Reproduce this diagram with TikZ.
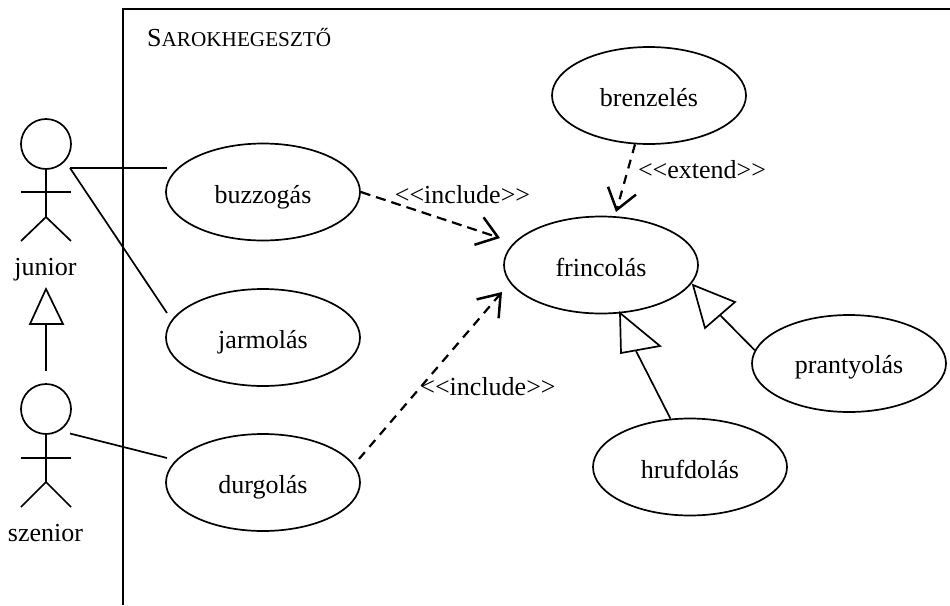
\documentclass[tikz,border=0pt]{standalone}
\usepackage{fontspec}
\setmainfont{Liberation Serif}
\usetikzlibrary{shapes.geometric,arrows.meta}
\tikzset{
  usecase/.style={draw,ellipse,line width=1.7pt,inner sep=0pt,minimum width=194pt,minimum height=97pt,text height=22pt,text depth=0pt,font=\fontsize{26}{30}\selectfont},
  head/.style={draw,circle,line width=1.7pt,inner sep=0pt,minimum size=50pt},
  limb/.style={line width=1.7pt},
  assoc/.style={line width=1.7pt},
  txt/.style={anchor=base,inner sep=0pt,font=\fontsize{26}{30}\selectfont},
  dep/.style={line width=2.2pt,dash pattern=on 10pt off 6pt,-{Straight Barb[length=20pt,width=29pt,line width=2.5pt]}},
  gen/.style={line width=1.7pt,fill=white,line join=miter},
  frame/.style={line width=2pt}
}
\begin{document}
\begin{tikzpicture}[x=1pt,y=-1pt]
\useasboundingbox (0,0) rectangle (950,605);
% system boundary
\coordinate (fb) at (123,605);
\coordinate (ft) at (123,9);
\coordinate (fr) at (950,9);
\draw[frame] (fb) -- (ft) -- (fr);
\node[txt,anchor=base west] (title) at (147,46) {S{\fontsize{21.2}{24}\selectfont AROKHEGESZTŐ}};

% use cases
\node[usecase] (buzz) at (263,192) {buzzogás};
\node[usecase] (jarm) at (263,337.5) {jarmolás};
\node[usecase] (durg) at (263,482.5) {durgolás};
\node[usecase] (brenz) at (649,95.5) {brenzelés};
\node[usecase] (frinc) at (601,265) {frincolás};
\node[usecase,text height=20pt] (prant) at (849,363.5) {prantyolás};
\node[usecase] (hruf) at (690,467) {hrufdolás};

% actor junior
\node[head] (jh) at (46,144) {};
\coordinate (jhip) at (46,217);
\coordinate (jal) at (21,192);
\coordinate (jar) at (71,192);
\coordinate (jll) at (21,241);
\coordinate (jlr) at (71,241);
\draw[limb] (jh.south) -- (jhip);
\draw[limb] (jal) -- (jar);
\draw[limb] (jll) -- (jhip) -- (jlr);
\node[txt] (jl) at (45.5,275) {junior};

% actor szenior
\node[head] (sh) at (46,409) {};
\coordinate (ship) at (46,482);
\coordinate (sal) at (21,458);
\coordinate (sar) at (71,458);
\coordinate (sll) at (21,507);
\coordinate (slr) at (71,507);
\draw[limb] (sh.south) -- (ship);
\draw[limb] (sal) -- (sar);
\draw[limb] (sll) -- (ship) -- (slr);
\node[txt] (sl) at (45.5,541) {szenior};

% actor generalisation
\coordinate (ga) at (46,289);
\coordinate (gb) at (30,324);
\coordinate (gc) at (63,324);
\coordinate (gm) at (46,324);
\coordinate (gs) at (46,371);
\draw[limb] (gs) -- (gm);
\draw[gen,fill=none] (ga) -- (gb) -- (gc) -- cycle;

% associations
\coordinate (ja) at (70,168);
\coordinate (ba) at (167,168);
\coordinate (jb) at (167,313);
\coordinate (sa) at (70,433.5);
\coordinate (da) at (167,458);
\draw[assoc] (ja) -- (ba);
\draw[assoc] (ja) -- (jb);
\draw[assoc] (sa) -- (da);

% dependencies
\coordinate (t1) at (500,238);
\coordinate (t2) at (502,292);
\coordinate (t3) at (616,212);
\coordinate (d2s) at (359,459);
\draw[dep] (buzz.east) -- (t1);
\draw[dep,dash pattern=on 9pt off 7pt] (d2s) -- (t2);
\draw[dep,dash pattern=on 9pt off 7pt] (brenz.254) -- (t3);
\node[txt] (l1) at (462.5,203) {<{}<include>{}>};
\node[txt] (l2) at (488,395) {<{}<include>{}>};
\node[txt] (l3) at (702,178) {<{}<extend>{}>};

% generalisations
\coordinate (p1) at (693,285);
\coordinate (p2) at (735,302);
\coordinate (p3) at (705,328);
\coordinate (pm) at (719,314);
\draw[gen] (prant.172.5) -- (pm);
\draw[gen] (p1) -- (p2) -- (p3) -- cycle;
\coordinate (h1) at (620,313);
\coordinate (h2) at (660,346);
\coordinate (h3) at (621,353);
\coordinate (hm) at (636,351);
\draw[gen] (hruf.112) -- (hm);
\draw[gen] (h1) -- (h2) -- (h3) -- cycle;
\end{tikzpicture}
\end{document}
